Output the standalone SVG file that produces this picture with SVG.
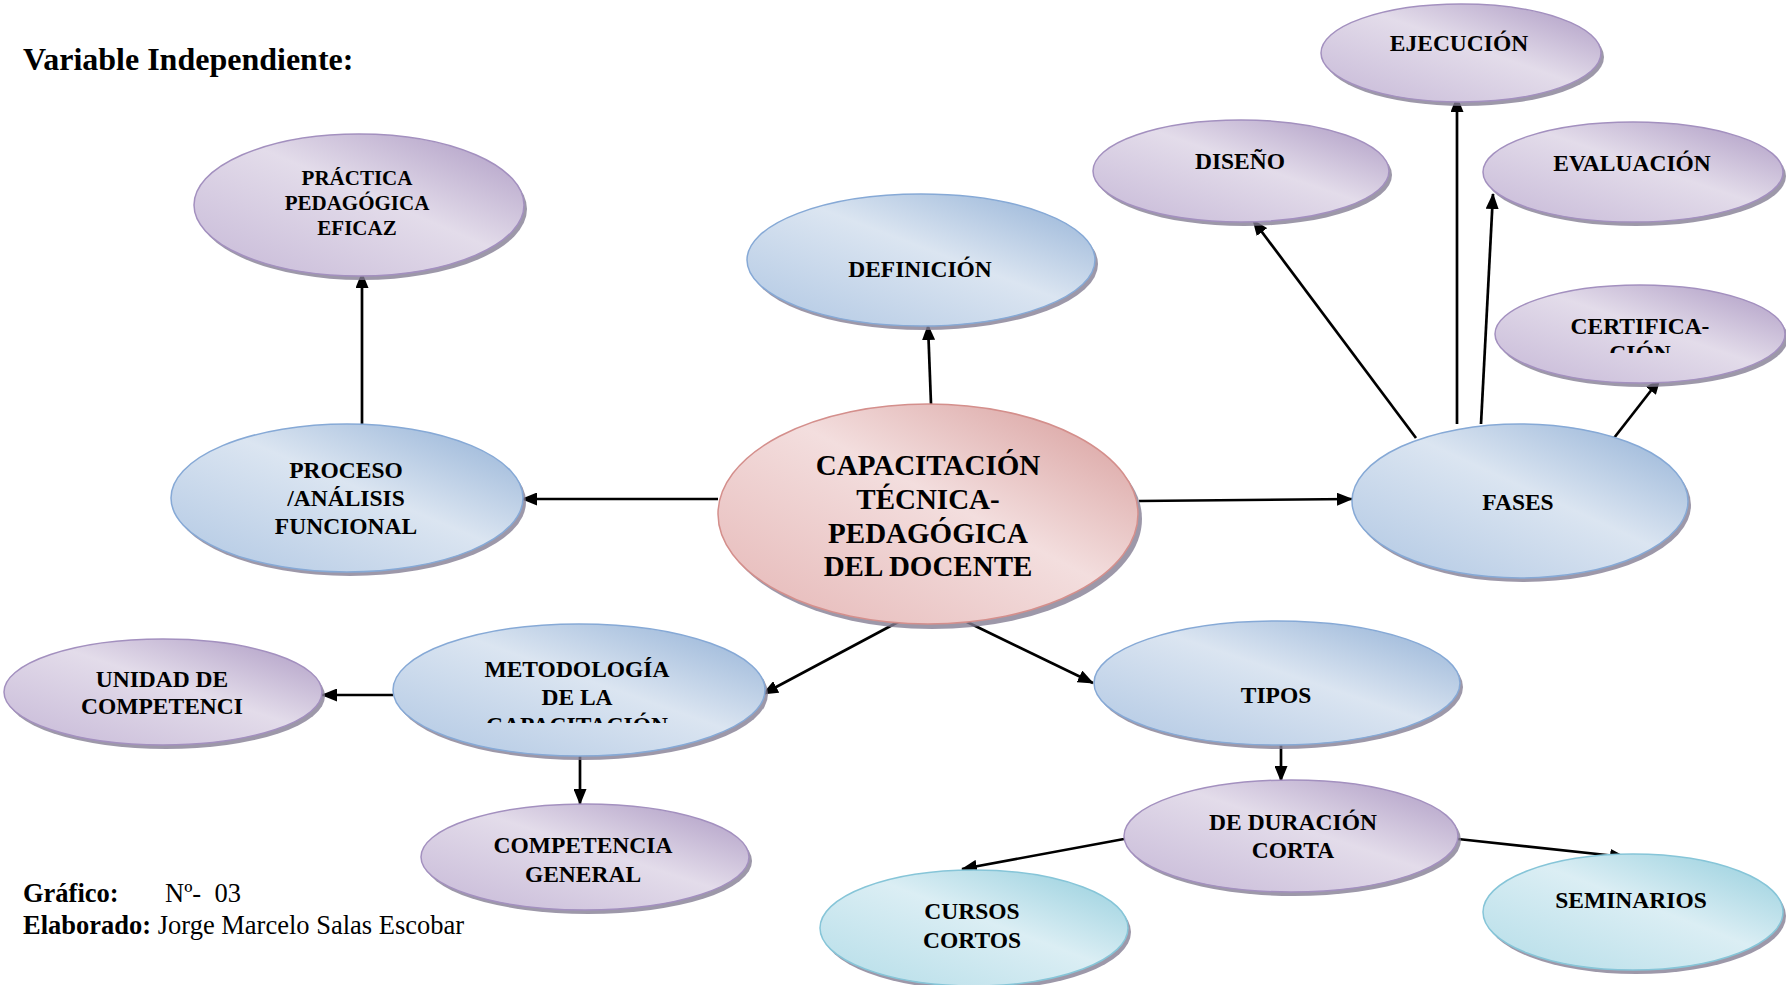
<svg xmlns="http://www.w3.org/2000/svg" width="1786" height="985" viewBox="0 0 1786 985">
<style>
.t{font-family:"Liberation Serif","Times New Roman",serif;font-weight:bold;font-size:23.5px;fill:#000;text-anchor:middle}
.s{font-size:21px}
.c{font-size:29px}
.sh{fill:#857e93;opacity:.8}
.p{fill:url(#gP);stroke:#a390bf;stroke-width:1.5}
.b{fill:url(#gB);stroke:#86a9d6;stroke-width:1.5}
.r{fill:url(#gR);stroke:#d48f8c;stroke-width:1.5}
.y{fill:url(#gC);stroke:#86c5d8;stroke-width:1.5}
.ln{stroke:#000;stroke-width:2.7;fill:none;marker-end:url(#ah)}
.f{font-family:"Liberation Serif","Times New Roman",serif;font-size:26.5px;fill:#000;white-space:pre}
</style>
<defs>
<linearGradient id="gP" x1="1" y1="0" x2="0" y2="1"><stop offset="0" stop-color="#ab98c2"/><stop offset=".45" stop-color="#e3dcea"/><stop offset="1" stop-color="#c6b8d7"/></linearGradient>
<linearGradient id="gB" x1="1" y1="0" x2="0" y2="1"><stop offset="0" stop-color="#90afd5"/><stop offset=".45" stop-color="#dbe5f1"/><stop offset="1" stop-color="#b0c7e3"/></linearGradient>
<linearGradient id="gR" x1="1" y1="0" x2="0" y2="1"><stop offset="0" stop-color="#d69a98"/><stop offset=".45" stop-color="#f3dede"/><stop offset="1" stop-color="#e5b6b5"/></linearGradient>
<linearGradient id="gC" x1="1" y1="0" x2="0" y2="1"><stop offset="0" stop-color="#92cddc"/><stop offset=".45" stop-color="#dbeef4"/><stop offset="1" stop-color="#b4dde8"/></linearGradient>
<marker id="ah" viewBox="0 0 16 13" refX="15" refY="6.5" markerWidth="16" markerHeight="13" markerUnits="userSpaceOnUse" orient="auto"><path d="M0,0 L16,6.5 L0,13 Z" fill="#000"/></marker>
<clipPath id="clipCert"><rect x="1490" y="280" width="296" height="73"/></clipPath>
<clipPath id="clipMet"><rect x="390" y="620" width="380" height="103"/></clipPath>
</defs>

<text x="23" y="70" style="font-family:'Liberation Serif','Times New Roman',serif;font-weight:bold;font-size:32px">Variable Independiente:</text>

<g id="connectors">
<line class="ln" x1="362" y1="424" x2="362" y2="273"/>
<line class="ln" x1="931" y1="404" x2="928" y2="325"/>
<line class="ln" x1="718" y1="499" x2="522" y2="499"/>
<line class="ln" x1="1139" y1="501" x2="1352" y2="499"/>
<line class="ln" x1="900" y1="621" x2="763" y2="694"/>
<line class="ln" x1="965" y1="621" x2="1093" y2="683"/>
<line class="ln" x1="393" y1="695" x2="322" y2="695"/>
<line class="ln" x1="580" y1="752" x2="580" y2="804"/>
<line class="ln" x1="1281" y1="740" x2="1281" y2="781"/>
<line class="ln" x1="1124" y1="839" x2="962" y2="869"/>
<line class="ln" x1="1458" y1="839" x2="1625" y2="857"/>
<line class="ln" x1="1416" y1="438" x2="1253" y2="220"/>
<line class="ln" x1="1457" y1="424" x2="1457" y2="97"/>
<line class="ln" x1="1481" y1="424" x2="1493" y2="194"/>
<line class="ln" x1="1614" y1="438" x2="1660" y2="379"/>
</g>

<g id="practica">
<ellipse class="sh" cx="362" cy="209" rx="165" ry="71"/>
<ellipse class="p" cx="359" cy="205" rx="165" ry="71"/>
<text class="t s" x="357" y="185">PRÁCTICA</text>
<text class="t s" x="357" y="210">PEDAGÓGICA</text>
<text class="t s" x="357" y="235">EFICAZ</text>
</g>

<g id="definicion">
<ellipse class="sh" cx="924" cy="264" rx="174" ry="66"/>
<ellipse class="b" cx="921" cy="260" rx="174" ry="66"/>
<text class="t" x="920" y="277">DEFINICIÓN</text>
</g>

<g id="ejecucion">
<ellipse class="sh" cx="1464" cy="57" rx="140" ry="49"/>
<ellipse class="p" cx="1461" cy="53" rx="140" ry="49"/>
<text class="t" x="1459" y="51">EJECUCIÓN</text>
</g>

<g id="diseno">
<ellipse class="sh" cx="1244" cy="175" rx="148" ry="51"/>
<ellipse class="p" cx="1241" cy="171" rx="148" ry="51"/>
<text class="t" x="1240" y="169">DISEÑO</text>
</g>

<g id="evaluacion">
<ellipse class="sh" cx="1636" cy="176" rx="150" ry="50"/>
<ellipse class="p" cx="1633" cy="172" rx="150" ry="50"/>
<text class="t" x="1632" y="171">EVALUACIÓN</text>
</g>

<g id="certificacion">
<ellipse class="sh" cx="1643" cy="338" rx="145" ry="49"/>
<ellipse class="p" cx="1640" cy="334" rx="145" ry="49"/>
<g clip-path="url(#clipCert)">
<text class="t" x="1640" y="334">CERTIFICA-</text>
<text class="t" x="1640" y="361">CIÓN</text>
</g>
</g>

<g id="proceso">
<ellipse class="sh" cx="350" cy="502" rx="176" ry="74"/>
<ellipse class="b" cx="347" cy="498" rx="176" ry="74"/>
<text class="t" x="346" y="478">PROCESO</text>
<text class="t" x="346" y="506">/ANÁLISIS</text>
<text class="t" x="346" y="534">FUNCIONAL</text>
</g>

<g id="capacitacion">
<ellipse class="sh" cx="932" cy="519" rx="210" ry="110"/>
<ellipse class="r" cx="928" cy="514" rx="210" ry="110"/>
<text class="t c" x="928" y="475">CAPACITACIÓN</text>
<text class="t c" x="928" y="509">TÉCNICA-</text>
<text class="t c" x="928" y="543">PEDAGÓGICA</text>
<text class="t c" x="928" y="576">DEL DOCENTE</text>
</g>

<g id="fases">
<ellipse class="sh" cx="1523" cy="505" rx="168" ry="77"/>
<ellipse class="b" cx="1520" cy="501" rx="168" ry="77"/>
<text class="t" x="1518" y="510">FASES</text>
</g>

<g id="unidad">
<ellipse class="sh" cx="166" cy="696" rx="159" ry="53"/>
<ellipse class="p" cx="163" cy="692" rx="159" ry="53"/>
<text class="t" x="162" y="687">UNIDAD DE</text>
<text class="t" x="162" y="714">COMPETENCI</text>
</g>

<g id="metodologia">
<ellipse class="sh" cx="582" cy="694" rx="186" ry="66"/>
<ellipse class="b" cx="579" cy="690" rx="186" ry="66"/>
<g clip-path="url(#clipMet)">
<text class="t" x="577" y="677">METODOLOGÍA</text>
<text class="t" x="577" y="705">DE LA</text>
<text class="t" x="577" y="733">CAPACITACIÓN</text>
</g>
</g>

<g id="tipos">
<ellipse class="sh" cx="1280" cy="687" rx="183" ry="62"/>
<ellipse class="b" cx="1277" cy="683" rx="183" ry="62"/>
<text class="t" x="1276" y="703">TIPOS</text>
</g>

<g id="competencia">
<ellipse class="sh" cx="588" cy="861" rx="164" ry="53"/>
<ellipse class="p" cx="585" cy="857" rx="164" ry="53"/>
<text class="t" x="583" y="853">COMPETENCIA</text>
<text class="t" x="583" y="882">GENERAL</text>
</g>

<g id="duracion">
<ellipse class="sh" cx="1294" cy="840" rx="167" ry="56"/>
<ellipse class="p" cx="1291" cy="836" rx="167" ry="56"/>
<text class="t" x="1293" y="830">DE DURACIÓN</text>
<text class="t" x="1293" y="858">CORTA</text>
</g>

<g id="cursos">
<ellipse class="sh" cx="977" cy="932" rx="154" ry="58"/>
<ellipse class="y" cx="974" cy="928" rx="154" ry="58"/>
<text class="t" x="972" y="919">CURSOS</text>
<text class="t" x="972" y="948">CORTOS</text>
</g>

<g id="seminarios">
<ellipse class="sh" cx="1636" cy="916" rx="150" ry="58"/>
<ellipse class="y" cx="1633" cy="912" rx="150" ry="58"/>
<text class="t" x="1631" y="908">SEMINARIOS</text>
</g>

<text class="f" x="23" y="902"><tspan font-weight="bold">Gráfico:</tspan><tspan x="165">Nº-  03</tspan></text>
<text class="f" x="23" y="934"><tspan font-weight="bold">Elaborado:</tspan> Jorge Marcelo Salas Escobar</text>
</svg>
